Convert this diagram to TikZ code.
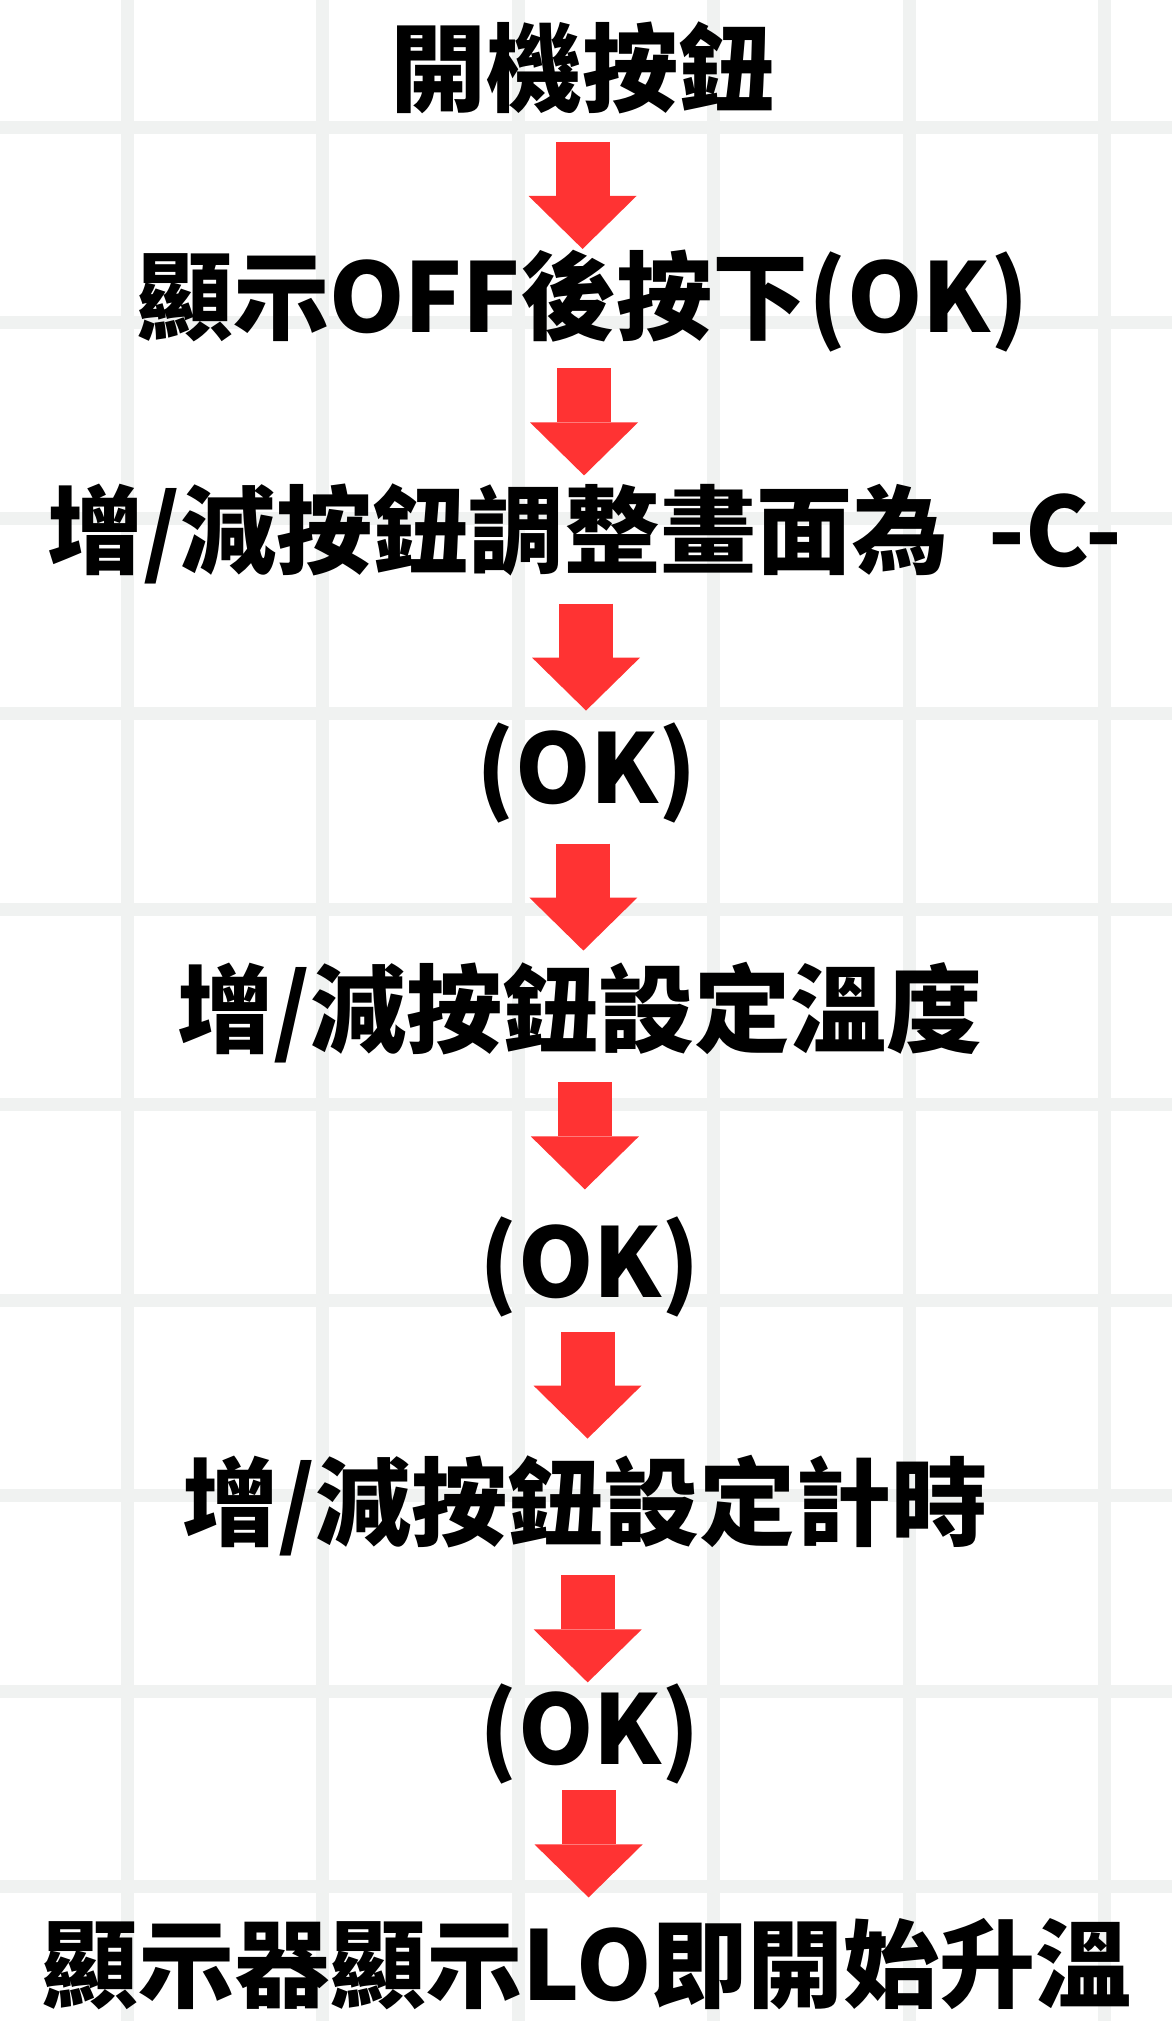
\documentclass[tikz,border=0pt]{standalone}
\usepackage{fontspec}
\newfontfamily\cjkfont{Noto Sans CJK TC}
\usetikzlibrary{arrows.meta,calc}
\definecolor{gridgray}{RGB}{240,242,241}
\definecolor{arrowred}{RGB}{255,51,51}
\tikzset{
  steptext/.style={font=\cjkfont\bfseries\fontsize{96}{100}\selectfont, inner sep=0pt},
  fatarrow/.style={arrowred, line width=54pt, -{Triangle[width=108pt,length=53pt,line width=0pt]}},
  gridline/.style={gridgray, line width=13pt}
}
\begin{document}
\begin{tikzpicture}[x=1pt,y=-1pt]
\useasboundingbox (0,0) rectangle (1172,2021);
\fill[white] (0,0) rectangle (1172,2021);
% grid
\draw[gridline] (127,0) -- (127,2021);
\draw[gridline] (322.5,0) -- (322.5,2021);
\draw[gridline] (518,0) -- (518,2021);
\draw[gridline] (713.5,0) -- (713.5,2021);
\draw[gridline] (909,0) -- (909,2021);
\draw[gridline] (1104.5,0) -- (1104.5,2021);
\draw[gridline] (0,127) -- (1172,127);
\draw[gridline] (0,322.5) -- (1172,322.5);
\draw[gridline] (0,518) -- (1172,518);
\draw[gridline] (0,713.5) -- (1172,713.5);
\draw[gridline] (0,909) -- (1172,909);
\draw[gridline] (0,1104.5) -- (1172,1104.5);
\draw[gridline] (0,1300) -- (1172,1300);
\draw[gridline] (0,1495.5) -- (1172,1495.5);
\draw[gridline] (0,1691) -- (1172,1691);
\draw[gridline] (0,1886.5) -- (1172,1886.5);
% steps
\node[steptext] (power) at (582,68) {開機按鈕};
\node[steptext] (off) at (583,301) {顯示OFF後按下(OK)};
\node[steptext] (modec) at (585,534) {增/減按鈕調整畫面為\hspace{18pt} -C-};
\node[steptext] (ok1) at (587,773) {(OK)};
\node[steptext] (temp) at (580,1013) {增/減按鈕設定溫度};
\node[steptext] (ok2) at (590,1267) {(OK)};
\node[steptext] (timer) at (585,1506) {增/減按鈕設定計時};
\node[steptext] (ok3) at (590,1734) {(OK)};
\node[steptext] (heat) at (587,1964) {顯示器顯示LO即開始升溫};
% arrows
\draw[fatarrow] ($(power)!0.547!(off)+(0,-53.5)$) -- +(0,107);
\draw[fatarrow] ($(off)!0.519!(modec)+(0,-53.5)$) -- +(0,107);
\draw[fatarrow] ($(modec)!0.515!(ok1)+(0,-53.5)$) -- +(0,107);
\draw[fatarrow] ($(ok1)!0.517!(temp)+(0,-53.5)$) -- +(0,107);
\draw[fatarrow] ($(temp)!0.484!(ok2)+(0,-53.5)$) -- +(0,107);
\draw[fatarrow] ($(ok2)!0.494!(timer)+(0,-53.5)$) -- +(0,107);
\draw[fatarrow] ($(timer)!0.539!(ok3)+(0,-53.5)$) -- +(0,107);
\draw[fatarrow] ($(ok3)!0.478!(heat)+(0,-53.5)$) -- +(0,107);
\end{tikzpicture}
\end{document}
